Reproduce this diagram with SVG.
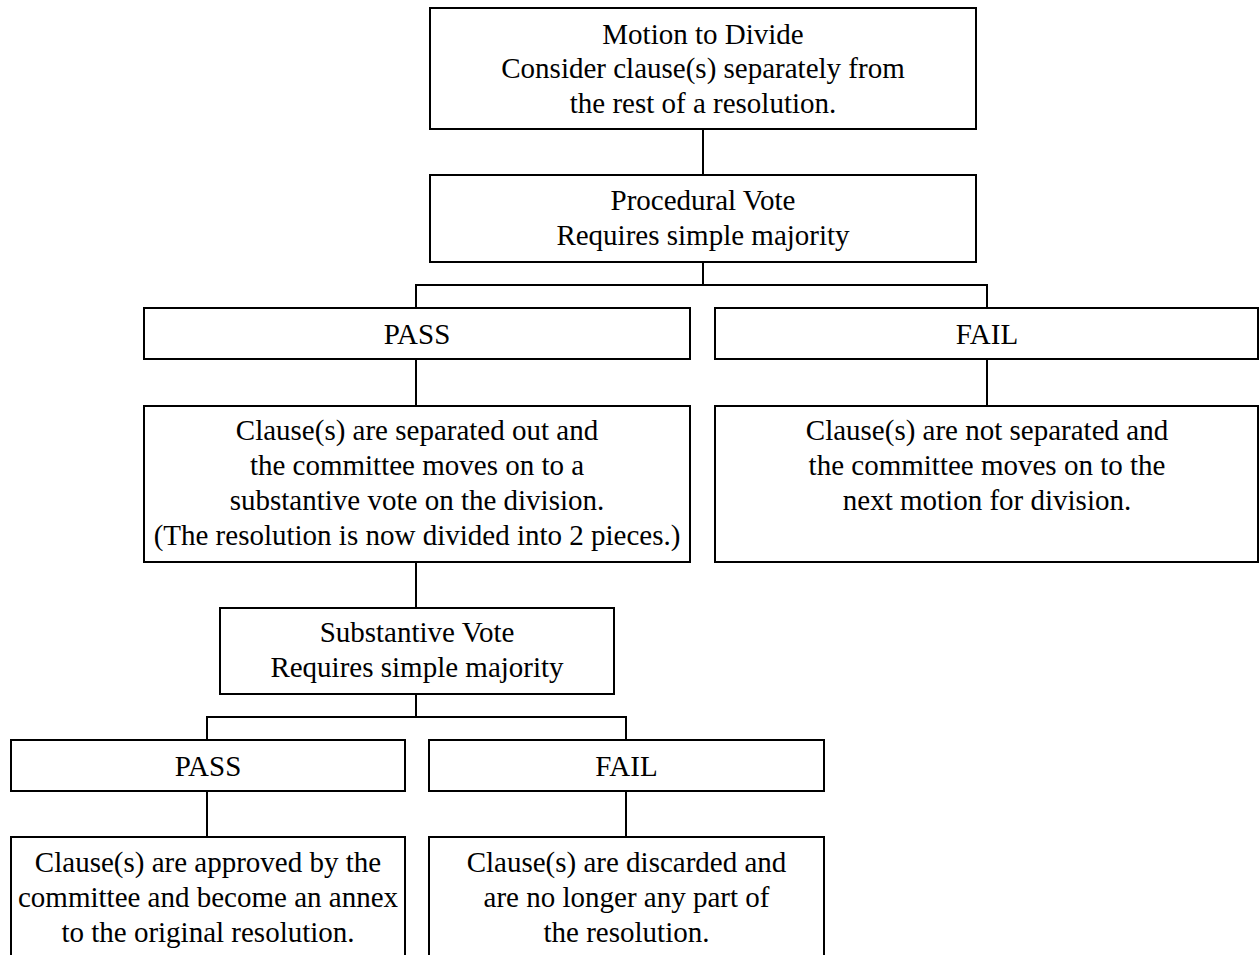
<svg xmlns="http://www.w3.org/2000/svg" width="1260" height="955" viewBox="0 0 1260 955">
<style>
.box{fill:#fff;stroke:#000;stroke-width:2}
.t{font-family:"Liberation Serif","Times New Roman",serif;font-size:29px;fill:#000;text-anchor:middle}
.c{fill:none;stroke:#000;stroke-width:2}
</style>
<rect width="1260" height="955" fill="#fff"/>
<g id="connectors">
<path class="c" d="M703 129V175"/>
<path class="c" d="M703 262V285"/>
<path class="c" d="M416 308V285H987V308"/>
<path class="c" d="M416 359V406"/>
<path class="c" d="M987 359V406"/>
<path class="c" d="M416 562V608"/>
<path class="c" d="M416 694V717"/>
<path class="c" d="M207 740V717H626V740"/>
<path class="c" d="M207 791V837"/>
<path class="c" d="M626 791V837"/>
</g>
<g id="motion">
<rect class="box" x="430" y="8" width="546" height="121"/>
<text class="t" x="703" y="43.5">Motion to Divide</text>
<text class="t" x="703" y="78">Consider clause(s) separately from</text>
<text class="t" x="703" y="112.5">the rest of a resolution.</text>
</g>
<g id="procedural">
<rect class="box" x="430" y="175" width="546" height="87"/>
<text class="t" x="703" y="210">Procedural Vote</text>
<text class="t" x="703" y="245">Requires simple majority</text>
</g>
<g id="pass1">
<rect class="box" x="144" y="308" width="546" height="51"/>
<text class="t" x="417" y="343.5">PASS</text>
</g>
<g id="fail1">
<rect class="box" x="715" y="308" width="543" height="51"/>
<text class="t" x="987" y="343.5">FAIL</text>
</g>
<g id="separated">
<rect class="box" x="144" y="406" width="546" height="156"/>
<text class="t" x="417" y="440">Clause(s) are separated out and</text>
<text class="t" x="417" y="475">the committee moves on to a</text>
<text class="t" x="417" y="510">substantive vote on the division.</text>
<text class="t" x="417" y="544.5">(The resolution is now divided into 2 pieces.)</text>
</g>
<g id="notseparated">
<rect class="box" x="715" y="406" width="543" height="156"/>
<text class="t" x="987" y="440">Clause(s) are not separated and</text>
<text class="t" x="987" y="475">the committee moves on to the</text>
<text class="t" x="987" y="510">next motion for division.</text>
</g>
<g id="substantive">
<rect class="box" x="220" y="608" width="394" height="86"/>
<text class="t" x="417" y="642">Substantive Vote</text>
<text class="t" x="417" y="677">Requires simple majority</text>
</g>
<g id="pass2">
<rect class="box" x="11" y="740" width="394" height="51"/>
<text class="t" x="208" y="775.5">PASS</text>
</g>
<g id="fail2">
<rect class="box" x="429" y="740" width="395" height="51"/>
<text class="t" x="626.5" y="775.5">FAIL</text>
</g>
<g id="approved">
<rect class="box" x="11" y="837" width="394" height="130"/>
<text class="t" x="208" y="872">Clause(s) are approved by the</text>
<text class="t" x="208" y="907">committee and become an annex</text>
<text class="t" x="208" y="942">to the original resolution.</text>
</g>
<g id="discarded">
<rect class="box" x="429" y="837" width="395" height="130"/>
<text class="t" x="626.5" y="872">Clause(s) are discarded and</text>
<text class="t" x="626.5" y="907">are no longer any part of</text>
<text class="t" x="626.5" y="942">the resolution.</text>
</g>
</svg>
